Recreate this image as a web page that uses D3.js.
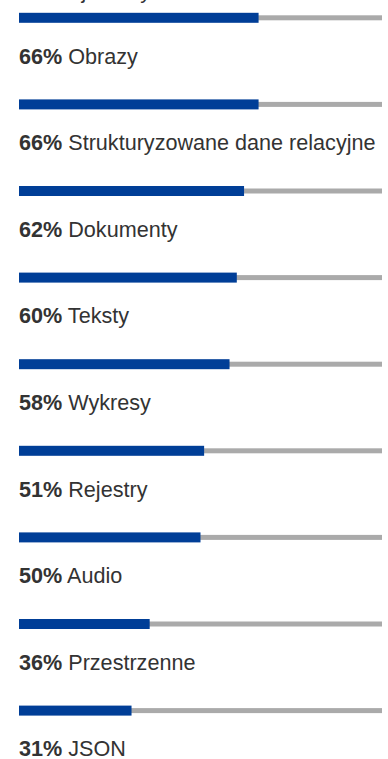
<!DOCTYPE html>
<html lang="pl">
<head>
<meta charset="utf-8">
<script src="https://cdn.jsdelivr.net/npm/d3@7/dist/d3.min.js"></script>
<style>
  html, body { margin: 0; padding: 0; background: #ffffff; }
  svg { display: block; }
  text { font-family: "Liberation Sans", Arial, Helvetica, sans-serif; fill: #333333; }
</style>
</head>
<body>
<div id="chart"></div>
<script>
// Share of respondents working with each type of data (percent)
const categories = [
  "Obrazy",
  "Strukturyzowane dane relacyjne",
  "Dokumenty",
  "Teksty",
  "Wykresy",
  "Rejestry",
  "Audio",
  "Przestrzenne",
  "JSON"
];
const values = [66, 66, 62, 60, 58, 51, 50, 36, 31];
const heading = "Rodzaje danych";

const width = 388, height = 759;
const barLeft = 19, barRight = 382;
const firstRow = 17.8, rowStep = 86.6;
const labelOffset = 45.8;

const svg = d3.select("#chart").append("svg")
  .attr("width", width)
  .attr("height", height);

const x = d3.scaleLinear().domain([0, 100]).range([barLeft, barRight]);
const y = d3.scalePoint()
  .domain(categories)
  .range([firstRow, firstRow + rowStep * (categories.length - 1)]);

// heading sits just above the visible area
svg.append("text")
  .attr("x", barLeft)
  .attr("y", -2.5)
  .style("font-size", "21.6px")
  .text(heading);

const rows = svg.selectAll("g.row")
  .data(categories.map((c, i) => ({ name: c, value: values[i] })))
  .join("g")
  .attr("class", "row");

// grey track
rows.append("rect")
  .attr("x", x(0))
  .attr("width", x(100) - x(0))
  .attr("y", d => y(d.name) - 2.5)
  .attr("height", 5)
  .attr("fill", "#aaaaaa");

// blue value bar
rows.append("rect")
  .attr("x", x(0))
  .attr("width", d => x(d.value) - x(0))
  .attr("y", d => y(d.name) - 5)
  .attr("height", 10)
  .attr("fill", "#003e97");

// label: bold percent followed by the category name
const label = rows.append("text")
  .attr("x", barLeft)
  .attr("y", d => y(d.name) + labelOffset)
  .style("font-size", "21.6px");

label.append("tspan")
  .style("font-weight", "bold")
  .text(d => d.value + "%");

label.append("tspan")
  .text(d => " " + d.name);
</script>
</body>
</html>
